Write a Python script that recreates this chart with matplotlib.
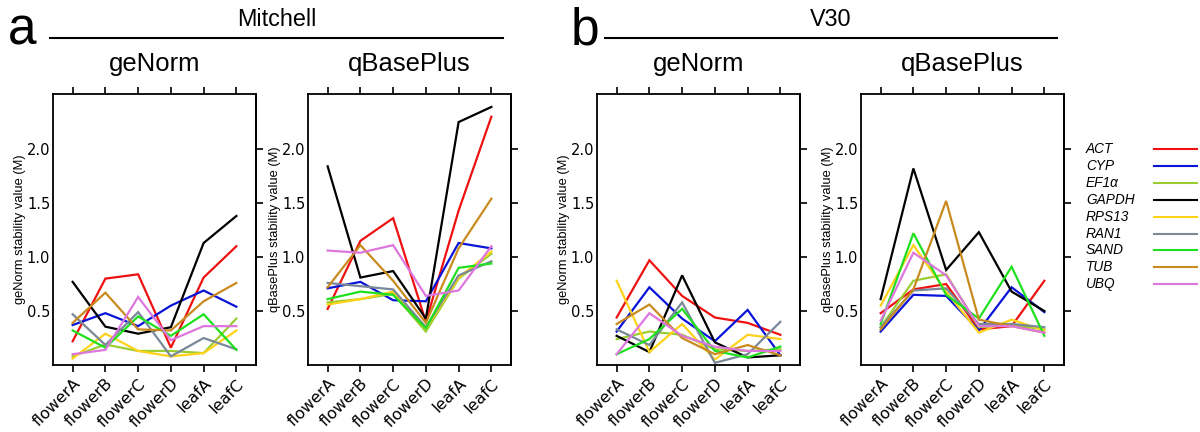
import matplotlib
matplotlib.use('Agg')
import matplotlib.pyplot as plt
from matplotlib import font_manager
from matplotlib.lines import Line2D

samples = ['flowerA', 'flowerB', 'flowerC', 'flowerD', 'leafA', 'leafC']
genes = ['ACT', 'CYP', 'EF1α', 'GAPDH', 'RPS13', 'RAN1', 'SAND', 'TUB', 'UBQ']
colors = ['#ee1111', '#0a14d8', '#9acd32', '#000000', '#ffd21a',
          '#7a8898', '#1fe01f', '#c98a1e', '#dd77dd']

# rows follow the order of genes, columns the order of samples
mitchell_genorm = [
    [0.22, 0.80, 0.84, 0.16, 0.81, 1.10],
    [0.37, 0.48, 0.36, 0.55, 0.69, 0.54],
    [0.08, 0.19, 0.13, 0.13, 0.11, 0.43],
    [0.77, 0.355, 0.29, 0.35, 1.13, 1.38],
    [0.06, 0.29, 0.13, 0.08, 0.11, 0.32],
    [0.47, 0.185, 0.49, 0.08, 0.25, 0.145],
    [0.32, 0.16, 0.45, 0.27, 0.47, 0.14],
    [0.39, 0.67, 0.33, 0.32, 0.59, 0.76],
    [0.10, 0.14, 0.63, 0.23, 0.36, 0.36],
]
mitchell_qbase = [
    [0.52, 1.15, 1.36, 0.40, 1.43, 2.30],
    [0.71, 0.77, 0.60, 0.59, 1.13, 1.08],
    [0.58, 0.61, 0.66, 0.31, 0.80, 1.03],
    [1.84, 0.81, 0.87, 0.43, 2.25, 2.39],
    [0.56, 0.61, 0.68, 0.34, 0.81, 1.05],
    [0.76, 0.73, 0.70, 0.35, 0.83, 0.96],
    [0.61, 0.68, 0.65, 0.34, 0.90, 0.94],
    [0.72, 1.11, 0.78, 0.39, 1.08, 1.54],
    [1.06, 1.04, 1.11, 0.64, 0.69, 1.10],
]
v30_genorm = [
    [0.44, 0.97, 0.64, 0.44, 0.39, 0.28],
    [0.31, 0.72, 0.43, 0.22, 0.51, 0.09],
    [0.24, 0.31, 0.28, 0.145, 0.13, 0.145],
    [0.27, 0.12, 0.83, 0.21, 0.07, 0.09],
    [0.78, 0.12, 0.38, 0.05, 0.28, 0.24],
    [0.33, 0.185, 0.58, 0.02, 0.10, 0.40],
    [0.10, 0.24, 0.52, 0.13, 0.07, 0.17],
    [0.38, 0.56, 0.25, 0.10, 0.185, 0.09],
    [0.10, 0.48, 0.27, 0.17, 0.13, 0.13],
]
v30_qbase = [
    [0.48, 0.70, 0.75, 0.33, 0.36, 0.78],
    [0.31, 0.65, 0.64, 0.32, 0.72, 0.49],
    [0.35, 0.78, 0.84, 0.35, 0.37, 0.33],
    [0.61, 1.82, 0.88, 1.23, 0.68, 0.50],
    [0.55, 1.11, 0.68, 0.30, 0.42, 0.32],
    [0.35, 0.69, 0.71, 0.38, 0.38, 0.35],
    [0.38, 1.22, 0.65, 0.43, 0.91, 0.27],
    [0.33, 0.70, 1.52, 0.42, 0.36, 0.30],
    [0.41, 1.04, 0.83, 0.36, 0.36, 0.30],
]
yticks = [0.5, 1.0, 1.5, 2.0]

installed = {f.name for f in font_manager.fontManager.ttflist}
if 'Liberation Sans Narrow' in installed:
    head_font, head_scale = 'Liberation Sans Narrow', 1.0
else:
    head_font, head_scale = 'Liberation Sans', 0.84

W, H = 1200, 432
fig = plt.figure(figsize=(W / 100, H / 100), dpi=100)

def px(x, y):
    return x / W, 1 - y / H

panels = [
    (mitchell_genorm, 'geNorm', 53),
    (mitchell_qbase, 'qBasePlus', 308),
    (v30_genorm, 'geNorm', 597),
    (v30_qbase, 'qBasePlus', 861),
]
top, bottom, width = 94, 365, 203

for data, method, left in panels:
    ax = fig.add_axes([left / W, 1 - bottom / H, width / W, (bottom - top) / H])
    x = list(range(len(samples)))
    for vals, c in zip(data, colors):
        ax.plot(x, vals, color=c, lw=1.6, solid_joinstyle='miter')
    ax.set_xlim(-0.6, len(samples) - 0.4)
    ax.set_ylim(0, 2.51)
    ax.set_xticks(x)
    ax.set_xticklabels(samples, rotation=45, ha='right', rotation_mode='anchor',
                       fontsize=11.5, family='DejaVu Sans')
    ax.set_yticks(yticks)
    ax.set_yticklabels(['%.1f' % v for v in yticks], fontsize=10.5, family='DejaVu Sans')
    ax.tick_params(axis='x', direction='out', length=5, width=1.2,
                   top=True, bottom=True, pad=3)
    # labels on the left without marks, marks on the right without labels
    ax.tick_params(axis='y', length=0, left=False, right=False,
                   labelleft=True, pad=2)
    right = ax.secondary_yaxis('right')
    right.set_yticks(yticks)
    right.tick_params(direction='out', length=5, width=1.2, labelright=False)
    for s in list(ax.spines.values()) + list(right.spines.values()):
        s.set_linewidth(1.3)
    ax.set_ylabel(method + ' stability value (M)', family='Liberation Sans',
                  fontsize=9.3)
    ax.yaxis.set_label_coords(-0.135, 0.5)
    cx, cy = px(left + width / 2, 64)
    fig.text(cx, cy, method, ha='center', va='center', family=head_font,
             fontsize=22 * head_scale)

# group headers
for letter, name, lx, x0, x1 in [('a', 'Mitchell', 22, 50, 503),
                                 ('b', 'V30', 585, 605, 1057)]:
    fig.text(*px(lx, 31), letter, ha='center', va='center', family=head_font,
             fontsize=44 * head_scale)
    fig.text(*px((x0 + x1) / 2, 19), name, ha='center', va='center',
             family=head_font, fontsize=20 * head_scale)
    a, b = px(x0, 38), px(x1, 38)
    fig.add_artist(Line2D([a[0], b[0]], [a[1], b[1]], color='black', lw=1.5))

# legend
for i, (g, c) in enumerate(zip(genes, colors)):
    yy = 149 + 16.9 * i
    fig.text(*px(1086, yy), g, ha='left', va='center', style='italic',
             family='Liberation Sans', fontsize=9.8)
    a, b = px(1154, yy), px(1197, yy)
    fig.add_artist(Line2D([a[0], b[0]], [a[1], b[1]], color=c, lw=1.5))

fig.savefig('out.png', dpi=100)
